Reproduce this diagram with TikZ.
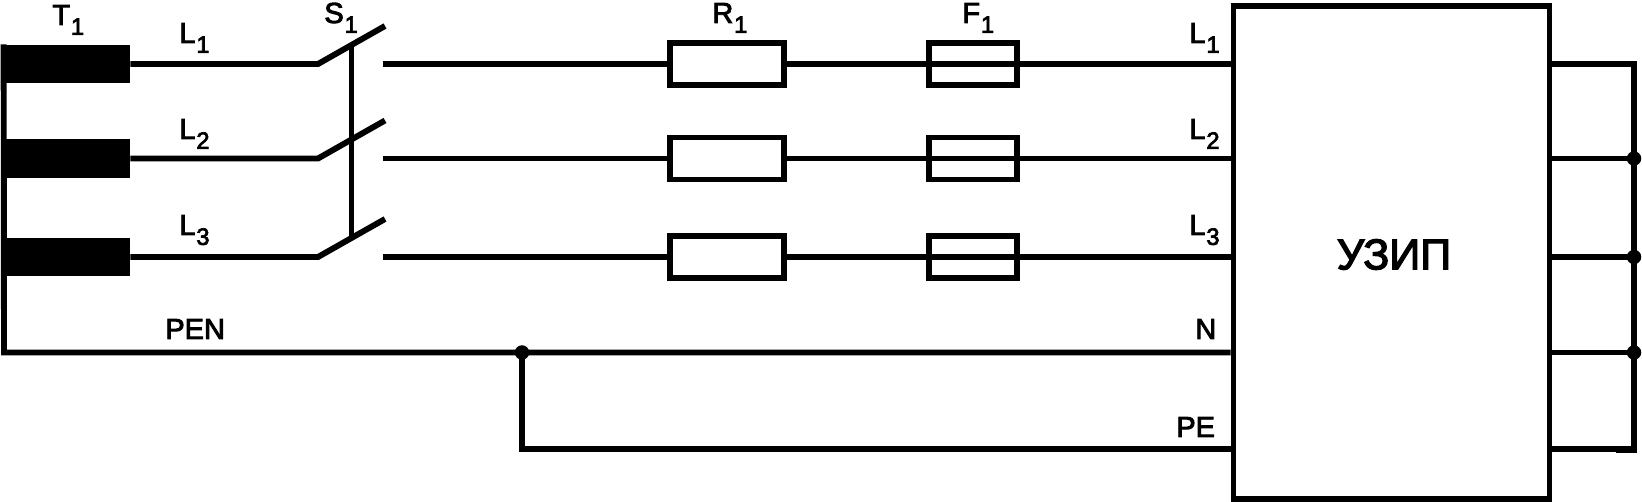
\documentclass[tikz,border=0pt]{standalone}
\usepackage{fontspec}
\setmainfont[FakeBold=3]{Liberation Sans}
\usetikzlibrary{calc}
\newcommand{\idx}[2]{#1\kern0.5pt\raisebox{-5.6pt}{\fontsize{13.5}{13.5}\selectfont #2}}
\tikzset{
  wire/.style={line width=1.18mm,line cap=butt},
  coil/.style={fill=black,inner sep=0pt,minimum width=25.8mm,minimum height=7.7mm},
  resbox/.style={draw,line width=1.18mm,fill=white,inner sep=0pt,minimum width=22.8mm,minimum height=8.4mm},
  fusebox/.style={draw,line width=1.18mm,inner sep=0pt,minimum width=17.6mm,minimum height=8.4mm},
  dot/.style={circle,fill=black,inner sep=0pt,minimum size=2.9mm},
  lbl/.style={inner sep=0pt,anchor=base west,font=\fontsize{16.5}{16.5}\selectfont}
}
\begin{document}
\begin{tikzpicture}[x=0.2mm,y=-0.2mm]
\useasboundingbox (0,0) rectangle (1642,502);
\node[draw,line width=1.18mm,inner sep=0pt,minimum width=63.2mm,minimum height=98.6mm](uzip) at (1391.5,252.5){};
\node[inner sep=0pt,font=\fontsize{24.5}{24.5}\selectfont](uzipt) at (1394,254.5){УЗИП};
\foreach \i/\y/\ly in {1/64/43,2/158.5/139,3/257/235}{
  \node[coil](coil\i) at (65.5,\y){};
  \coordinate(swa\i) at (318,\y);
  \coordinate(swb\i) at (385,{\y-38});
  \coordinate(swc\i) at (383,\y);
  \node[resbox](res\i) at (727,\y){};
  \node[fusebox](fuse\i) at (973,\y){};
  \coordinate(out\i) at (1634,\y);
  \node[lbl](ll\i) at (179,\ly){\idx{L}{\i}};
  \node[lbl](lr\i) at (1189,\ly){\idx{L}{\i}};
  \draw[wire](coil\i.east)--(swa\i)--(swb\i);
  \draw[wire](swc\i)--(res\i.west);
  \draw[wire](res\i.east)--(fuse\i.west);
  \draw[wire](fuse\i.west)--(fuse\i.east);
  \draw[wire](fuse\i.east)--(uzip.west |- fuse\i);
  \draw[wire](uzip.east |- out\i)--(out\i);
}
\coordinate(pen) at (4,352.5);
\coordinate(pe) at (522,449);
\coordinate(out4) at (1634,352.5);
\coordinate(out5) at (1634,449);
\coordinate(step) at (1616,450.5);
\node[dot](dotn) at (522,352.5){};
\node[dot](dot2) at (out2){};
\node[dot](dot3) at (out3){};
\node[dot](dot4) at (out4){};
\draw[wire]($(coil1.north west)+(3,0)$)--(pen)--(uzip.west |- pen);
\draw[wire](dotn.center)--(pe)--(uzip.west |- pe);
\draw[wire](uzip.east |- out4)--(out4);
\draw[wire]($(out1)+(2.9,0)$)--(out1)--(out5);
\draw[wire](uzip.east |- out5)--($(out5)+(2.9,0)$);
\draw[wire](step)--($(out5)+(2.9,1.5)$);
\draw[wire]($(swa1)!0.5!(swb1)$)--($(swa3)!0.5!(swb3)$);
\node[lbl](t1) at (52,25){\idx{T}{1}};
\node[lbl](s1) at (324,23){\idx{S}{1}};
\node[lbl](r1) at (712,23){\idx{R}{1}};
\node[lbl](f1) at (962,23){\idx{F}{1}};
\node[lbl](pent) at (165,339){PEN};
\node[lbl](nt) at (1195,339){N};
\node[lbl](pet) at (1176,437){PE};
\end{tikzpicture}
\end{document}
